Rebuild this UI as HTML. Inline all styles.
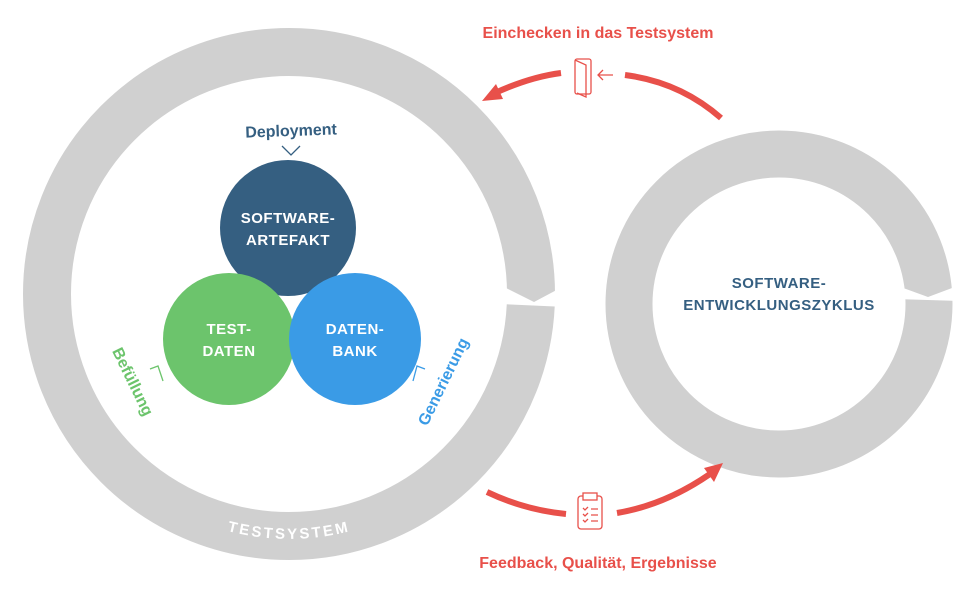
<!DOCTYPE html>
<html><head><meta charset="utf-8"><style>
html,body{margin:0;padding:0;background:#fff;}
svg{display:block;font-family:"Liberation Sans",sans-serif;}
</style></head><body>
<svg width="974" height="594" viewBox="0 0 974 594" xmlns="http://www.w3.org/2000/svg">
<defs>
<path id="tp" d="M 44 294 A 245 245 0 0 0 534 294"/>
</defs>
<!-- big ring -->
<circle cx="289" cy="294" r="242" fill="none" stroke="#d0d0d0" stroke-width="48"/>
<polygon points="500,285 534,302 566,285 566,307 500,304" fill="#fff"/>
<!-- right ring -->
<circle cx="779" cy="304" r="150" fill="none" stroke="#d0d0d0" stroke-width="47"/>
<polygon points="895,285 928,297 960,285 960,301 895,299" fill="#fff"/>
<text font-size="15" font-weight="bold" fill="#fff" letter-spacing="2.5" text-anchor="middle"><textPath href="#tp" startOffset="50%">TESTSYSTEM</textPath></text>

<!-- circles -->
<circle cx="288" cy="228" r="68" fill="#355f81"/>
<circle cx="229" cy="339" r="66" fill="#6cc46c"/>
<circle cx="355" cy="339" r="66" fill="#3a9be6"/>
<g font-weight="bold" font-size="15" fill="#fff" text-anchor="middle" letter-spacing="0.5">
<text x="288" y="223">SOFTWARE-</text><text x="288" y="245">ARTEFAKT</text>
<text x="229" y="334">TEST-</text><text x="229" y="356">DATEN</text>
<text x="355" y="334">DATEN-</text><text x="355" y="356">BANK</text>
</g>

<text x="291" y="136" font-size="16" font-weight="bold" fill="#355f81" text-anchor="middle" transform="rotate(-2 291 130)">Deployment</text>
<polyline points="282,146 291,155 300,146" fill="none" stroke="#355f81" stroke-width="1.3"/>

<text x="0" y="0" font-size="16" font-weight="bold" fill="#6cc46c" text-anchor="middle" transform="translate(128,384) rotate(64)">Befüllung</text>
<polyline points="150,369 158,366 163,381" fill="none" stroke="#6cc46c" stroke-width="1.3"/>

<text x="0" y="0" font-size="16" font-weight="bold" fill="#3a9be6" text-anchor="middle" transform="translate(448,384) rotate(-64)">Generierung</text>
<polyline points="425,369 417,366 413,381" fill="none" stroke="#3a9be6" stroke-width="1.3"/>

<text x="779" y="288" font-size="15" font-weight="bold" fill="#355f81" text-anchor="middle" letter-spacing="0.5">SOFTWARE-</text>
<text x="779" y="310" font-size="15" font-weight="bold" fill="#355f81" text-anchor="middle" letter-spacing="0.5">ENTWICKLUNGSZYKLUS</text>

<!-- red arrows -->
<g stroke="#e8504a" stroke-width="6" fill="none" stroke-linecap="butt">
<path d="M 561 73 Q 530 77 495 93"/>
<path d="M 625 75 Q 680 82 721 118"/>
<path d="M 487 492 Q 525 510 566 514"/>
<path d="M 617 513 Q 665 505 710 474"/>
</g>
<polygon points="482,101 496,84 503,99" fill="#e8504a"/>
<polygon points="723,463 704,468 714,482" fill="#e8504a"/>
<!-- door icon -->
<g stroke="#e8504a" stroke-width="1.3" fill="none">
<rect x="575" y="59" width="16" height="35" rx="2"/>
<path d="M 575 60 L 586 65 L 586 97 L 577 93"/>
<path d="M 613 75 L 598 75 M 603 70 L 598 75 L 603 80"/>
</g>
<!-- clipboard icon -->
<g stroke="#e8504a" stroke-width="1.3" fill="none">
<rect x="578" y="496" width="24" height="33" rx="3"/>
<rect x="583" y="493" width="14" height="7" fill="#fff"/>
<path d="M 583 508 l2 2 l3 -3 M 591 509 h7 M 583 514 l2 2 l3 -3 M 591 515 h7 M 583 520 l2 2 l3 -3 M 591 521 h7"/>
</g>

<text x="598" y="38" font-size="16" font-weight="bold" fill="#e8504a" text-anchor="middle">Einchecken in das Testsystem</text>
<text x="598" y="568" font-size="16" font-weight="bold" fill="#e8504a" text-anchor="middle">Feedback, Qualität, Ergebnisse</text>
</svg>
</body></html>
